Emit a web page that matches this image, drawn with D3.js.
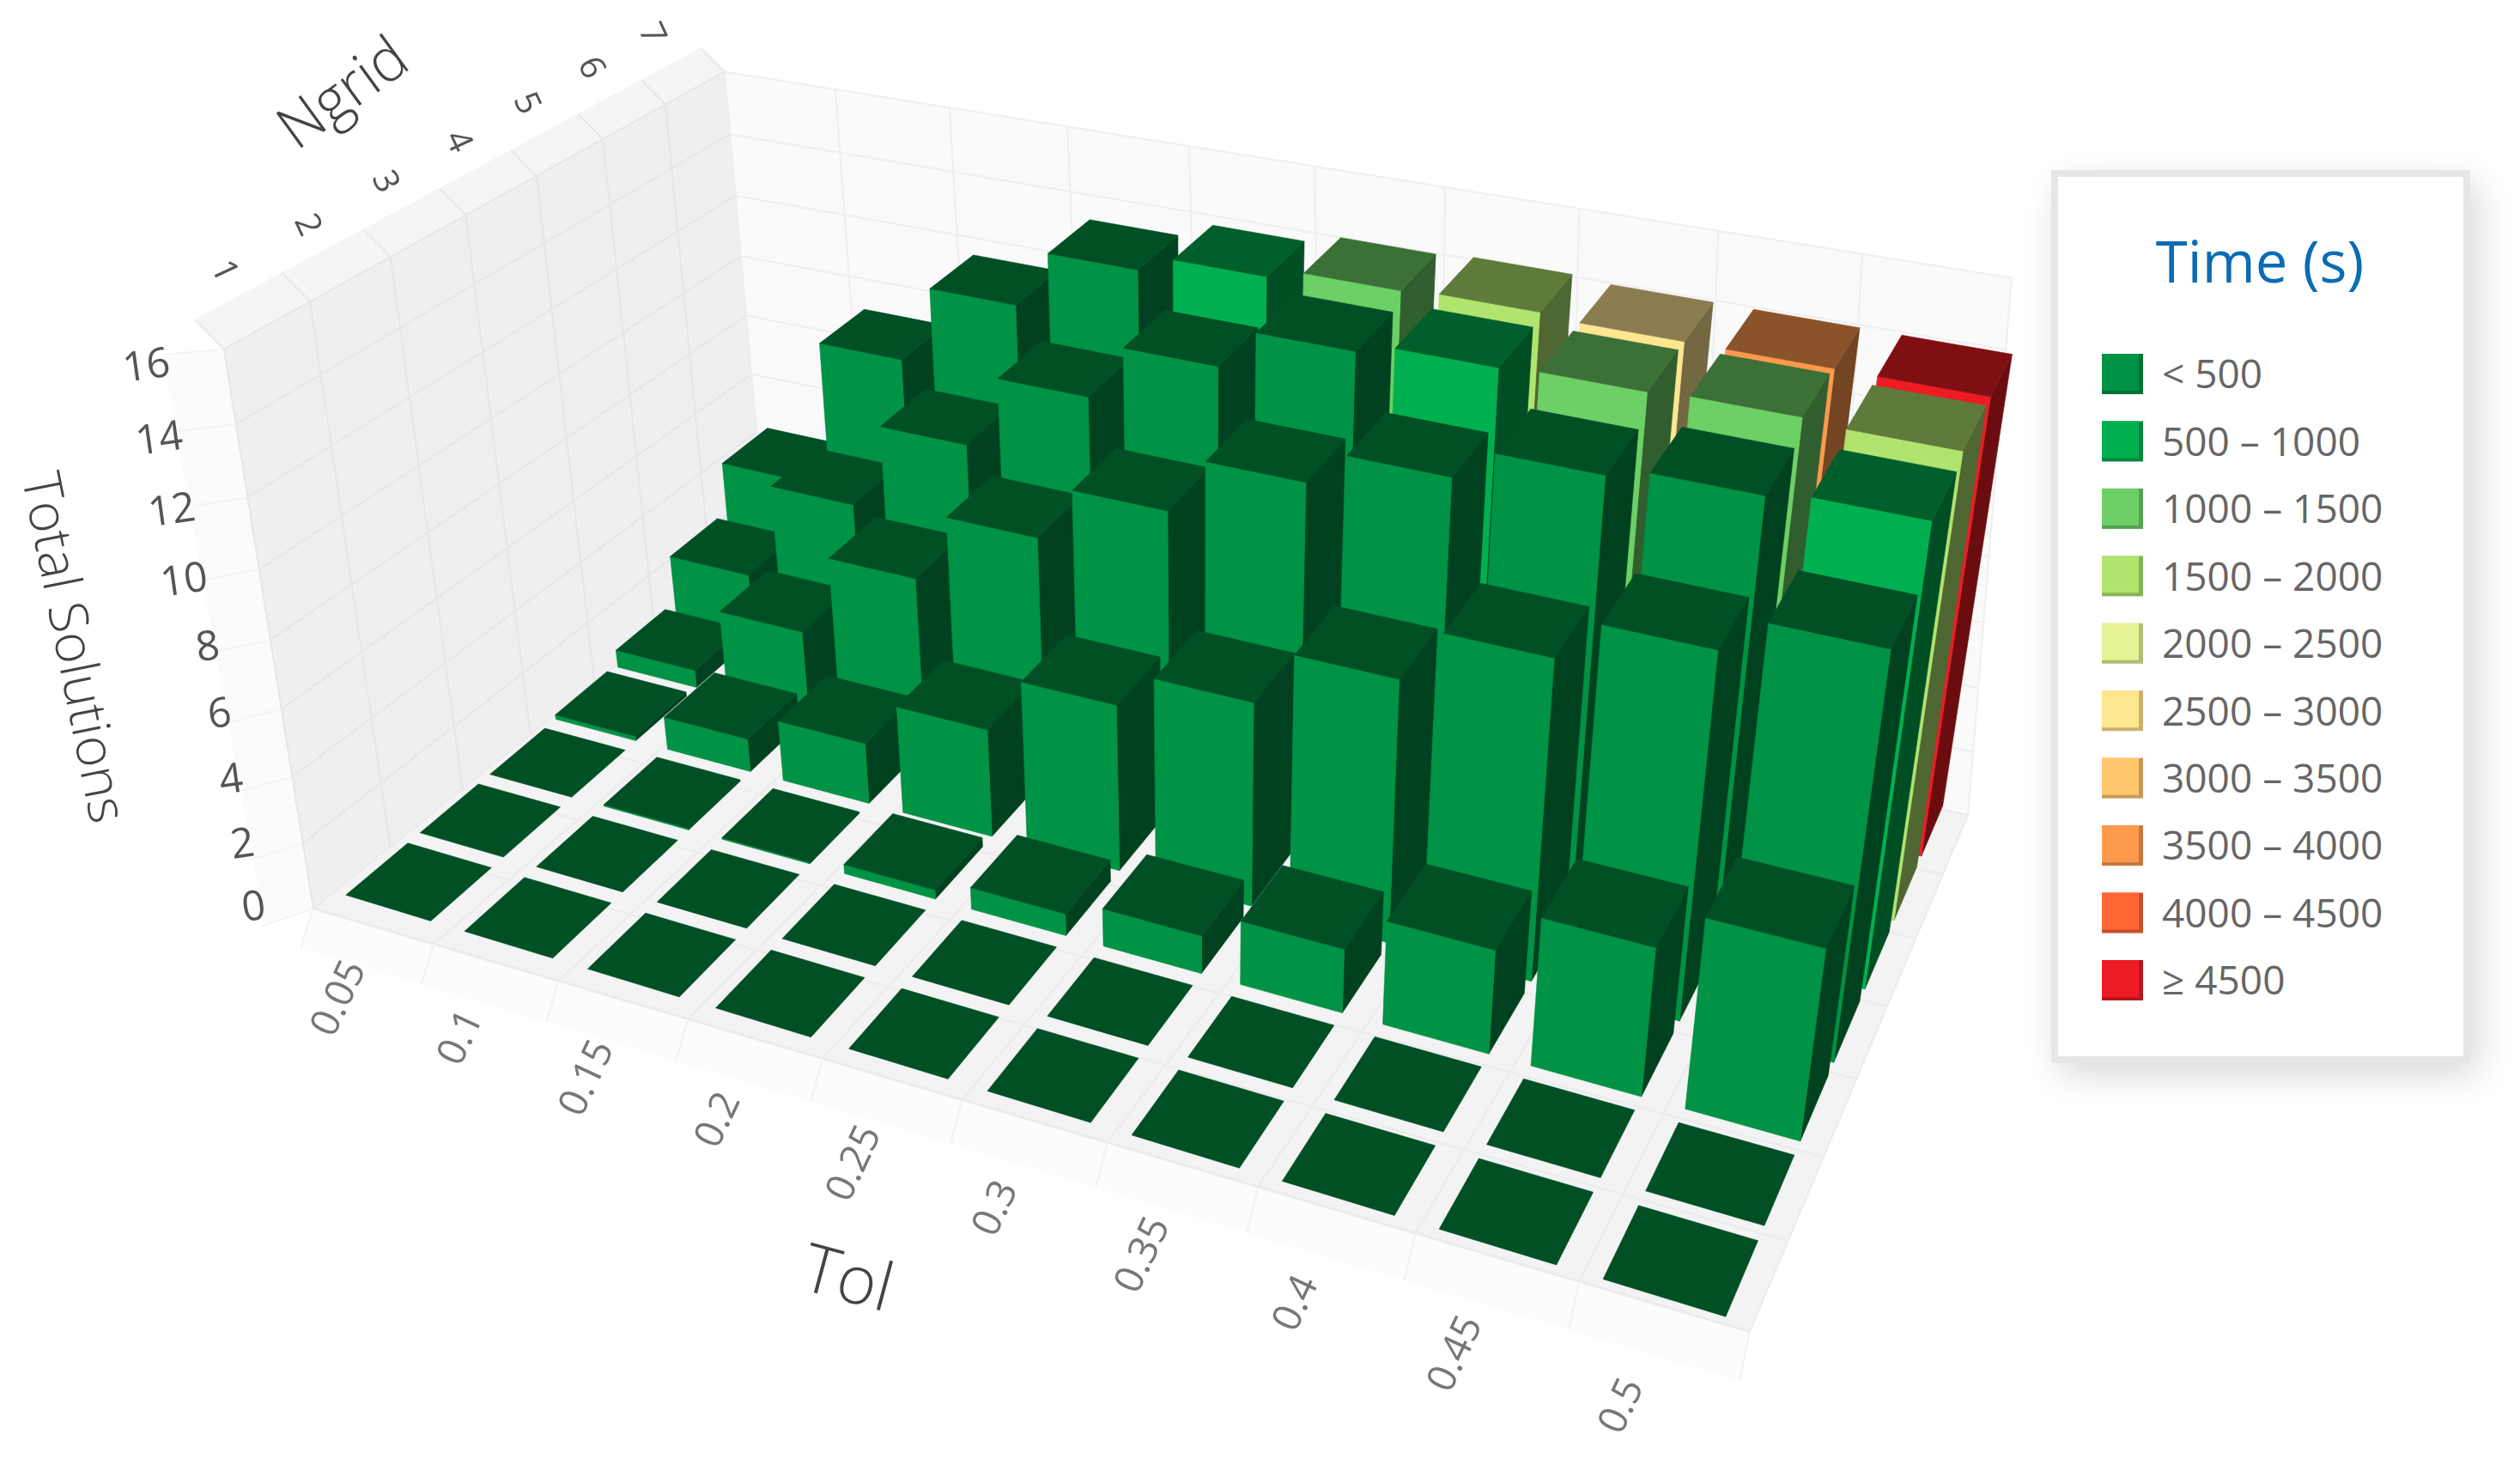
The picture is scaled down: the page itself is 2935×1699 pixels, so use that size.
<!DOCTYPE html>
<html><head><meta charset="utf-8"><style>html,body{margin:0;padding:0;background:#fff}svg{display:block;filter:blur(0.7px)}text{font-family:"Open Sans",sans-serif}</style>
<script src="https://cdn.jsdelivr.net/npm/d3@7/dist/d3.min.js"></script></head><body><svg id="c" width="2935" height="1699"></svg>
<script>
const tolLabels=["0.05","0.1","0.15","0.2","0.25","0.3","0.35","0.4","0.45","0.5"];
const ngridLabels=["1","2","3","4","5","6","7"];
const zTicks=[0,2,4,6,8,10,12,14,16];
const n1=[0,0,0,0,0,0,0,0,0,0];
const n2=[0,0,0,0,0,0,0,0,0,0];
const n3=[0,0.05,0.05,0.3,0.7,1.2,2,3.2,4.5,5.7];
const n4=[0.15,1.1,2,3.5,5.3,6.4,8.1,9.7,10.9,11.9];
const n5=[0.6,2.9,5.6,7.8,9.5,11.2,12.2,13.1,13.4,13.6];
const n6=[2.2,5.5,8.3,10.6,12.3,13.5,13.8,13.9,14,13.9];
const n7=[3.9,8.8,11.3,13.1,13.6,13.9,14,13.9,13.9,13.9];
const solutions=[n1,n2,n3,n4,n5,n6,n7];
const t1=[0,0,0,0,0,0,0,0,0,0];
const t2=[0,0,0,0,0,0,0,0,0,0];
const t3=[0,0,0,0,0,0,0,0,0,0];
const t4=[0,0,0,0,0,0,0,0,0,0];
const t5=[0,0,0,0,0,0,0,0,0,1];
const t6=[0,0,0,0,0,0,1,2,2,3];
const t7=[0,0,0,0,1,2,3,5,7,9];
const timeClass=[t1,t2,t3,t4,t5,t6,t7];
const legendLabels=["< 500","500 – 1000","1000 – 1500","1500 – 2000","2000 – 2500","2500 – 3000","3000 – 3500","3500 – 4000","4000 – 4500","≥ 4500"];
const legendColors=["#009245","#00b050","#6dd066","#b0e46f","#e6f296","#ffe690","#ffc66d","#ff9a4d","#ff6633","#ed1c24"];
const TOP=0.54,SIDE=0.45;
const shade=(c,k)=>{const r=d3.rgb(c);return d3.rgb(r.r*k,r.g*k,r.b*k).formatHex()};
function fit(pts){const A=[];pts.forEach(([x,y,z,u,v])=>{A.push([x,y,z,1,0,0,0,0,-u*x,-u*y,-u*z,u]);A.push([0,0,0,0,x,y,z,1,-v*x,-v*y,-v*z,v]);});
 const n=11,M=d3.range(n).map(i=>d3.range(n+1).map(j=>d3.sum(A,r=>r[i]*r[j])));
 for(let i=0;i<n;i++){let p=i;for(let k=i;k<n;k++)if(Math.abs(M[k][i])>Math.abs(M[p][i]))p=k;[M[i],M[p]]=[M[p],M[i]];
  for(let k=0;k<n;k++)if(k!==i){const f=M[k][i]/M[i][i];for(let j=i;j<=n;j++)M[k][j]-=f*M[i][j];}}
 return M.map((r,i)=>r[n]/r[i]);}
const cam=C=>(x,y,z)=>{const w=C[8]*x+C[9]*y+C[10]*z+1;return[(C[0]*x+C[1]*y+C[2]*z+C[3])/w,(C[4]*x+C[5]*y+C[6]*z+C[7])/w]};
// box camera
const P=cam(fit([[0,0,0,364,1045],[1,0,0,2040,1557],[1,1,0,2293,940],[0,1,0,891,648],[0,0,1,260,415],[0,1,1,847,73],[1,1,1,2340,328]]));

const xS=d3.scaleBand().domain(tolLabels).range([0,1]).paddingInner(0.28).paddingOuter(0.14);
const yS=d3.scaleBand().domain(ngridLabels).range([0,1]).paddingInner(0.17).paddingOuter(0.085);
const zS=d3.scaleLinear().domain([0,16]).range([0,1]);
const xG=d3.scaleLinear().domain([0,10]).range([0,1]);
const yG=d3.scaleLinear().domain([0,7]).range([0,1]);
// bar camera, fitted to the tiles and the rear bar
const X0=t=>xS(t),X1=t=>xS(t)+xS.bandwidth(),Y0=t=>yS(t),Y1=t=>yS(t)+yS.bandwidth();
const barCal=[
[X0("0.05"),Y0("1"),0,402,1042],[X1("0.05"),Y0("1"),0,503,1073],[X1("0.05"),Y1("1"),0,574,1009],[X0("0.05"),Y1("1"),0,475,981],
[X0("0.5"),Y0("1"),0,1866,1491],[X1("0.5"),Y0("1"),0,2010,1533],[X1("0.5"),Y1("1"),0,2047,1442],[X0("0.5"),Y1("1"),0,1911,1402],
[X0("0.5"),Y0("2"),0,1915,1391],[X1("0.5"),Y1("2"),0,2090,1345],
[X0("0.05"),Y0("2"),0,490,970],[X0("0.05"),Y0("3"),0,568,903],
[X1("0.5"),Y1("7"),0,2263,938],[X1("0.5"),Y1("7"),0.87,2342,408],[X1("0.5"),Y0("7"),0.87,2320,465],
[0,0,1,260,415],[0,1,1,847,73]];
const B=cam(fit(barCal));

const svg=d3.select("#c");
const defs=svg.append("defs");
defs.append("filter").attr("id","sh").attr("x","-20%").attr("y","-20%").attr("width","150%").attr("height","150%").append("feGaussianBlur").attr("stdDeviation",22);
const line=d3.line();
const polyC=(cm)=>(g,pts,fill)=>g.append("path").attr("d",line(pts.map(p=>cm(...p)))+"Z").attr("fill",fill).attr("stroke",fill).attr("stroke-width",0.6);
const poly=polyC(P),polyB=polyC(B);
const seg=(g,a,b,c,w)=>g.append("path").attr("d",line([P(...a),P(...b)])).attr("stroke",c).attr("stroke-width",w||2).attr("fill","none");

const box=svg.append("g");
poly(box,[[0,-.03,-.05],[1,-.03,-.05],[1,0,0],[0,0,0]],"#fcfcfc");
poly(box,[[0,-.09,1.04],[0,0,1],[0,0,0],[0,-.08,.04]],"#fbfbfb");
poly(box,[[-.02,0,1.04],[-.02,1,1.04],[0,1,1],[0,0,1]],"#f5f5f5");
poly(box,[[0,0,0],[0,1,0],[0,1,1],[0,0,1]],"#efefef");
poly(box,[[0,1,0],[1,1,0],[1,1,1],[0,1,1]],"#fafafa");
poly(box,[[0,0,0],[1,0,0],[1,1,0],[0,1,0]],"#f3f3f3");
seg(box,[0,0,0],[1,0,0],"#ececec",3);
zTicks.forEach(t=>{const z=zS(t);seg(box,[0,0,z],[0,1,z],"#e6e6e6");seg(box,[0,1,z],[1,1,z],"#efefef");seg(box,[0,-.085,z+.04],[0,0,z],"#f4f4f4");});
d3.range(0,8).forEach(i=>{const y=yG(i);seg(box,[0,y,0],[0,y,1],"#e6e6e6");seg(box,[0,y,0],[1,y,0],"#ebebeb");seg(box,[-.02,y,1.04],[0,y,1],"#e8e8e8");});
d3.range(0,11).forEach(i=>{const x=xG(i);seg(box,[x,1,0],[x,1,1],"#efefef");seg(box,[x,0,0],[x,1,0],"#ebebeb");seg(box,[x,-.03,-.05],[x,0,0],"#f2f2f2");});

const bars=svg.append("g");
d3.range(6,-1,-1).forEach(r=>{tolLabels.forEach((t,c)=>{
 const x0=xS(t),x1=x0+xS.bandwidth(),y0=yS(ngridLabels[r]),y1=y0+yS.bandwidth(),z=zS(solutions[r][c]),col=legendColors[timeClass[r][c]];
 if(z>0){polyB(bars,[[x1,y0,0],[x1,y1,0],[x1,y1,z],[x1,y0,z]],shade(col,SIDE));
  polyB(bars,[[x0,y0,0],[x1,y0,0],[x1,y0,z],[x0,y0,z]],col);}
 polyB(bars,[[x0,y0,z],[x1,y0,z],[x1,y1,z],[x0,y1,z]],shade(col,TOP));
});});

const lab=svg.append("g");
const tolDx=d3.scaleLinear().domain([0,9]).range([-38,-47]),tolDy=d3.scaleLinear().domain([0,9]).range([85,117]);
tolLabels.forEach((t,i)=>{const p=P(xS(t)+xS.bandwidth()/2,0,0);
 lab.append("text").attr("transform",`translate(${p[0]+tolDx(i)},${p[1]+tolDy(i)}) rotate(-65)`).attr("text-anchor","middle").attr("dominant-baseline","middle").attr("font-size",46).attr("fill","#777").text(t);});
ngridLabels.forEach((t,i)=>{const p=P(0,yS(t)+yS.bandwidth()/2,1);
 lab.append("text").attr("transform",`translate(${p[0]-52},${p[1]-62}) rotate(65)`).attr("text-anchor","middle").attr("dominant-baseline","middle").attr("font-size",40).attr("fill","#555").text(t);});
const zDy=d3.scaleLinear().domain([0,16]).range([-54,-24]);
zTicks.forEach(t=>{const z=zS(t),p=P(0,-.09,z);
 lab.append("text").attr("transform",`translate(${p[0]+4},${p[1]+5+zDy(t)}) rotate(-8)`).attr("text-anchor","end").attr("dominant-baseline","middle").attr("font-size",48).attr("fill","#555").text(t);});
const title=(s,x,y,rot,size,len)=>lab.append("text").attr("transform",`translate(${x},${y}) rotate(${rot})`).attr("text-anchor","middle").attr("dominant-baseline","middle").attr("font-size",size).attr("font-weight",300).attr("fill","#444").attr("textLength",len).attr("lengthAdjust","spacingAndGlyphs").text(s);
title("Ngrid",402,112,-36,70,167);
title("Tol",986,1494,15,78,105);
title("Total Solutions",82,755,78.7,62,414);

const lg=svg.append("g");
lg.append("rect").attr("x",2400).attr("y",215).attr("width",485).attr("height",1035).attr("fill","#000").attr("opacity",0.16).attr("filter","url(#sh)");
lg.append("rect").attr("x",2393).attr("y",202).attr("width",480).attr("height",1032).attr("fill","#fff").attr("stroke","#e6e6e6").attr("stroke-width",8);
lg.append("text").attr("x",2632).attr("y",311).attr("text-anchor","middle").attr("dominant-baseline","middle").attr("font-size",67).attr("fill","#0a6cb4").text("Time (s)");
const ly=d3.scaleLinear().domain([0,9]).range([412,1118]);
legendLabels.forEach((t,i)=>{const y=ly(i),c=legendColors[i];
 lg.append("rect").attr("x",2448).attr("y",y).attr("width",48).attr("height",47).attr("fill",shade(c,.78));
 lg.append("rect").attr("x",2448).attr("y",y).attr("width",43).attr("height",43).attr("fill",c);
 lg.append("text").attr("x",2518).attr("y",y+28).attr("dominant-baseline","middle").attr("font-size",46).attr("fill","#666").text(t);});
</script></body></html>
